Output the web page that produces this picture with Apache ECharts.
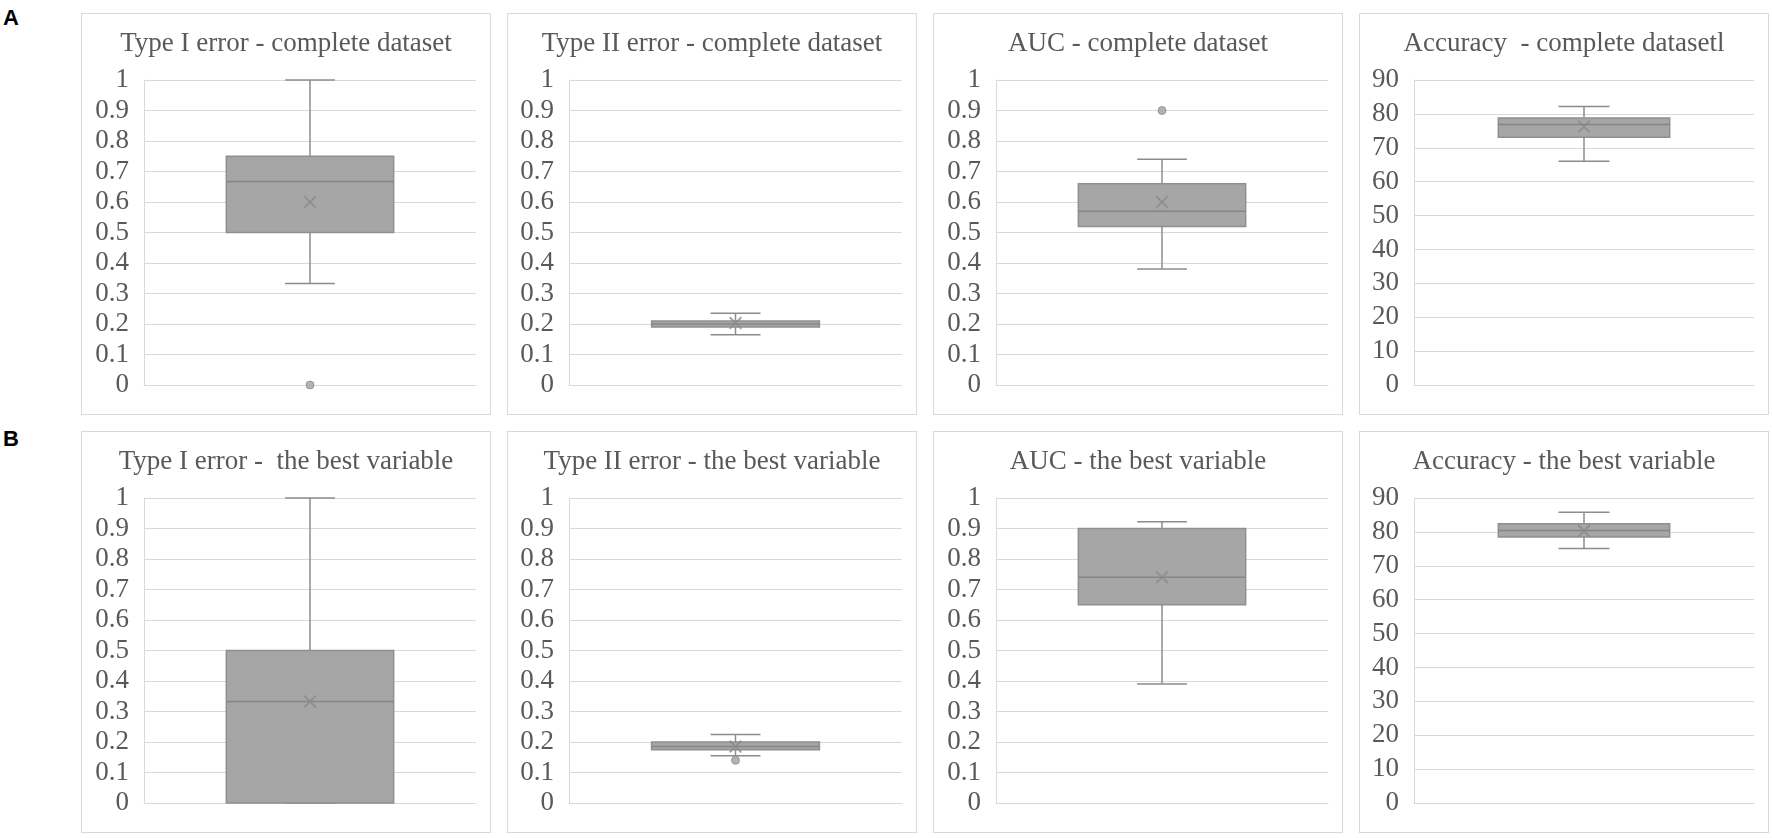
<!DOCTYPE html>
<html lang="en">
<head>
	<meta charset="UTF-8">
	<title>Box plots</title>
	<script src="https://cdn.jsdelivr.net/npm/echarts@6/dist/echarts.min.js" type="text/javascript"></script>
	<style>
		html,body{margin:0;padding:0;background:#fff;}
		.wrap{position:relative;width:1772px;height:838px;}
		.tag{position:absolute;left:3px;font:bold 22px 'Liberation Sans',Arial,sans-serif;color:#000;}
		.panel{position:absolute;width:410px;height:402px;border:1px solid #d9d9d9;box-sizing:border-box;}
	</style>
</head>
<body>
<div class="wrap">
	<div class="tag" style="top:5px;">A</div>
	<div class="tag" style="top:426px;">B</div>
	<div class="panel" id="p0" style="left:81px;top:13px;"></div>
	<div class="panel" id="p1" style="left:507px;top:13px;"></div>
	<div class="panel" id="p2" style="left:933px;top:13px;"></div>
	<div class="panel" id="p3" style="left:1359px;top:13px;"></div>
	<div class="panel" id="p4" style="left:81px;top:431px;"></div>
	<div class="panel" id="p5" style="left:507px;top:431px;"></div>
	<div class="panel" id="p6" style="left:933px;top:431px;"></div>
	<div class="panel" id="p7" style="left:1359px;top:431px;"></div>
</div>
<script>
	// 数据
	var panelTitles = [
		'Type I error - complete dataset',
		'Type II error - complete dataset',
		'AUC - complete dataset',
		'Accuracy  - complete datasetl',
		'Type I error -  the best variable',
		'Type II error - the best variable',
		'AUC - the best variable',
		'Accuracy - the best variable'
	];
	// [min, Q1, median, Q3, max]
	var boxStats = [
		[0.333, 0.5, 0.667, 0.75, 1],
		[0.165, 0.19, 0.2, 0.21, 0.235],
		[0.38, 0.52, 0.57, 0.66, 0.74],
		[66, 73.1, 76.9, 78.8, 82.2],
		[0, 0, 0.333, 0.5, 1],
		[0.155, 0.175, 0.185, 0.2, 0.225],
		[0.39, 0.65, 0.74, 0.9, 0.922],
		[75.1, 78.5, 80.4, 82.4, 85.8]
	];
	var meanValues = [0.6, 0.203, 0.6, 76.3, 0.333, 0.185, 0.74, 80.3];
	var outlierValues = [[0], [], [0.9], [], [], [0.14], [], []];
	var axisMax = [1, 1, 1, 90, 1, 1, 1, 90];
	var axisStep = [0.1, 0.1, 0.1, 10, 0.1, 0.1, 0.1, 10];
	var gridLeft = [62, 61, 62, 54, 62, 61, 62, 54];

	var textColor = '#595959';
	var lineColor = '#8c8c8c';
	var boxColor = '#a6a6a6';
	var serifFont = "'Liberation Serif', 'Times New Roman', serif";
	var crossPath = 'path://M1,0L5,4L9,0L10,1L6,5L10,9L9,10L5,6L1,10L0,9L4,5L0,1Z';

	for (var i = 0; i < panelTitles.length; i++) {
		chartBox('p' + i, i);
	}

	function chartBox(id, k) {
		var myChart = echarts.init(document.getElementById(id));
		var s = boxStats[k];
		var outData = [];
		for (var j = 0; j < outlierValues[k].length; j++) {
			outData.push([0, outlierValues[k][j]]);
		}
		var option = {
			animation: false,
			title: {
				text: panelTitles[k],
				left: 'center',
				top: 11,
				textStyle: {
					fontFamily: serifFont,
					fontSize: 27,
					fontWeight: 'normal',
					color: textColor
				}
			},
			grid: {left: gridLeft[k], right: 14, top: 66, bottom: 29},
			xAxis: {
				type: 'category',
				data: [''],
				axisLine: {show: true, lineStyle: {color: '#d9d9d9'}},
				axisTick: {show: false},
				axisLabel: {show: false},
				splitLine: {show: false}
			},
			yAxis: {
				type: 'value',
				min: 0,
				max: axisMax[k],
				interval: axisStep[k],
				axisLine: {show: true, lineStyle: {color: '#d9d9d9'}},
				axisTick: {show: false},
				axisLabel: {
					margin: 15,
					fontFamily: serifFont,
					fontSize: 27,
					color: textColor
				},
				splitLine: {lineStyle: {color: '#d9d9d9', width: 1}}
			},
			series: [
				{
					type: 'custom',
					encode: {x: 0, y: [1, 2, 3, 4, 5]},
					data: [[0, s[0], s[1], s[2], s[3], s[4]]],
					renderItem: function (params, api) {
						var band = api.size([1, 0])[0];
						var cx = api.coord([0, 0])[0];
						var yMin = api.coord([0, api.value(1)])[1];
						var yQ1 = api.coord([0, api.value(2)])[1];
						var yMed = api.coord([0, api.value(3)])[1];
						var yQ3 = api.coord([0, api.value(4)])[1];
						var yMax = api.coord([0, api.value(5)])[1];
						var hw = band * 0.252;
						var cw = band * 0.075;
						var ls = {stroke: lineColor, lineWidth: 1.5};
						return {
							type: 'group',
							children: [
								{type: 'line', shape: {x1: cx, y1: yQ3, x2: cx, y2: yMax}, style: ls},
								{type: 'line', shape: {x1: cx, y1: yQ1, x2: cx, y2: yMin}, style: ls},
								{type: 'line', shape: {x1: cx - cw, y1: yMax, x2: cx + cw, y2: yMax}, style: ls},
								{type: 'line', shape: {x1: cx - cw, y1: yMin, x2: cx + cw, y2: yMin}, style: ls},
								{type: 'rect', shape: {x: cx - hw, y: yQ3, width: hw * 2, height: yQ1 - yQ3},
									style: {fill: boxColor, stroke: '#8f8f8f', lineWidth: 1.5}},
								{type: 'line', shape: {x1: cx - hw, y1: yMed, x2: cx + hw, y2: yMed},
									style: {stroke: '#858585', lineWidth: 1.5}}
							]
						};
					}
				},
				{
					type: 'scatter',
					data: [[0, meanValues[k]]],
					symbol: crossPath,
					symbolSize: 13,
					itemStyle: {color: '#8a8a8a'},
					z: 5
				},
				{
					type: 'scatter',
					data: outData,
					symbol: 'circle',
					symbolSize: 8,
					itemStyle: {color: '#a0a0a0', borderColor: '#8c8c8c', borderWidth: 1},
					z: 5
				}
			]
		};
		myChart.setOption(option);
	}
</script>
</body>
</html>
